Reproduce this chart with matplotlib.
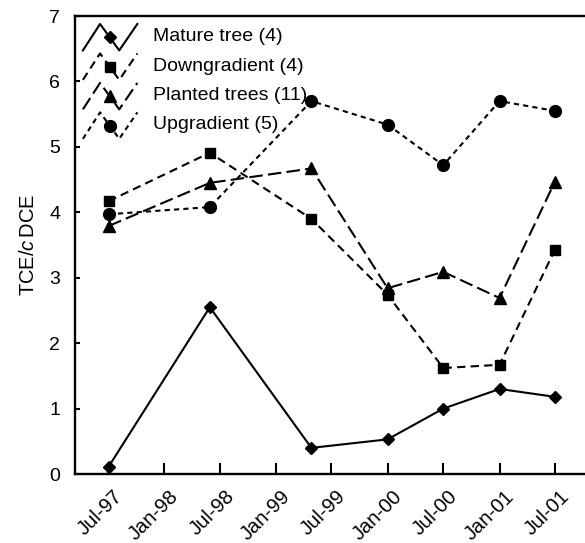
import numpy as np
import matplotlib
matplotlib.use('Agg')
import matplotlib.pyplot as plt
import matplotlib.dates as mdates
import matplotlib.transforms as mtransforms
from matplotlib.legend_handler import HandlerLine2D
from matplotlib.lines import Line2D

plt.rcParams['font.family'] = ['Liberation Sans', 'DejaVu Sans']
plt.rcParams['mathtext.fontset'] = 'custom'
plt.rcParams['mathtext.rm'] = 'Liberation Sans'
plt.rcParams['mathtext.it'] = 'Liberation Sans:italic'

# sampling dates and TCE/cDCE ratios
dates = np.array(['1997-07-03', '1998-05-30', '1999-04-27', '2000-01-01',
                  '2000-07-01', '2001-01-01', '2001-07-01'], dtype='datetime64[D]')
mature = [0.11, 2.55, 0.40, 0.53, 1.00, 1.30, 1.18]
downgradient = [4.17, 4.91, 3.90, 2.74, 1.62, 1.67, 3.43]
planted = [3.79, 4.45, 4.67, 2.84, 3.09, 2.69, 4.47]
upgradient = [3.97, 4.08, 5.70, 5.34, 4.72, 5.70, 5.55]

labels = ['Mature tree (4)', 'Downgradient (4)', 'Planted trees (11)', 'Upgradient (5)']


class ZigzagHandler(HandlerLine2D):
    """Legend handle drawn as a /\\/ zigzag with the marker on the falling leg."""

    def create_artists(self, legend, orig_handle, xdescent, ydescent,
                       width, height, fontsize, trans):
        xs = np.array([0.0, 0.315, 0.667, 1.0]) * width - xdescent
        ymid = height / 2 - ydescent - 0.15 * fontsize
        amp = 0.68 * fontsize
        ys = ymid + np.array([-1, 1, -1, 1]) * amp
        line = Line2D(xs, ys)
        self.update_prop(line, orig_handle, legend)
        line.set_marker('None')
        mark = Line2D([(xs[1] + xs[2]) / 2], [ymid])
        self.update_prop(mark, orig_handle, legend)
        mark.set_linestyle('None')
        line.set_transform(trans)
        mark.set_transform(trans)
        return [line, mark]


fig = plt.figure(figsize=(5.85, 5.43), dpi=100)
ax = fig.add_axes([0.128, 0.127, 0.886, 0.8435])

lw = 1.5
l1, = ax.plot(dates, mature, color='k', lw=lw, marker='D', ms=6)
l2, = ax.plot(dates, downgradient, color='k', lw=lw, marker='s', ms=7,
              dashes=(4, 2.5))
l3, = ax.plot(dates, planted, color='k', lw=lw, marker='^', ms=9,
              dashes=(6.5, 2.5))
l4, = ax.plot(dates, upgradient, color='k', lw=lw, marker='o', ms=8.5,
              dashes=(2.5, 2))

ax.set_xlim(np.datetime64('1997-03-15'), np.datetime64('2001-11-03'))
ax.set_ylim(0, 7)
ax.set_yticks(range(0, 8))
ax.xaxis.set_major_locator(mdates.MonthLocator(bymonth=(1, 7)))
ax.xaxis.set_major_formatter(mdates.DateFormatter('%b-%y'))

for s in ax.spines.values():
    s.set_linewidth(1.7)
ax.tick_params(axis='x', direction='in', length=8, width=1.5, labelsize=14.5, pad=9)
ax.tick_params(axis='y', direction='in', length=3.6, width=1.5, labelsize=14, pad=10.5)
shift = mtransforms.ScaledTranslation(3.5 / 72, 0, fig.dpi_scale_trans)
for t in ax.get_xticklabels():
    t.set_rotation(45)
    t.set_ha('right')
    t.set_rotation_mode('anchor')
    t.set_transform(t.get_transform() + shift)

ax.set_ylabel(r'TCE/$\mathit{c}\,$DCE', fontsize=14.5, labelpad=8)

ax.legend([l1, l2, l3, l4], labels, loc='upper left',
          bbox_to_anchor=(0.0155, 0.975), frameon=False, fontsize=14,
          borderpad=0, borderaxespad=0, handlelength=2.8, handleheight=0.7,
          labelspacing=0.61, handletextpad=0.8,
          handler_map={Line2D: ZigzagHandler()})

fig.savefig('out.png', dpi=100)
